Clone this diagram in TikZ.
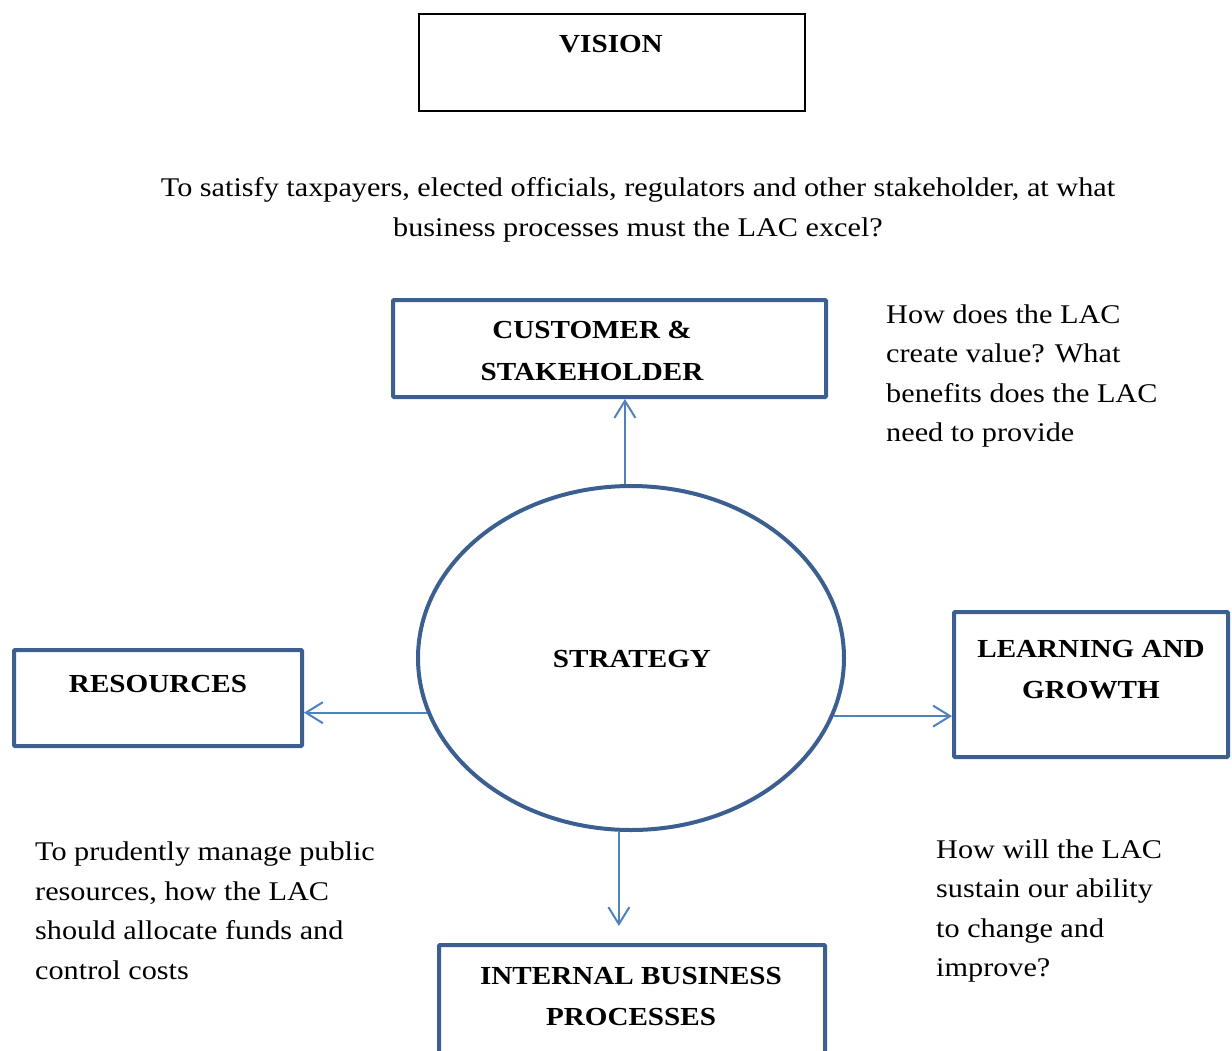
\documentclass[tikz,border=0pt]{standalone}
\usepackage{fontspec}
\setmainfont{Liberation Serif}[FakeStretch=1.12]
\usetikzlibrary{shapes.geometric,arrows.meta,calc}
\definecolor{boxblue}{RGB}{60,95,145}
\definecolor{arrblue}{RGB}{79,129,189}
\tikzset{
  bluebox/.style={draw=boxblue, line width=4pt, rounded corners=1pt, inner sep=0pt},
  boxtext/.style={font=\fontsize{26}{41.5}\selectfont\bfseries, align=center, inner sep=0pt},
  bodytext/.style={font=\fontsize{27}{39.5}\selectfont, inner sep=0pt},
  arr/.style={draw=arrblue, line width=2pt, -{Straight Barb[length=17pt,width=21pt,line width=2pt]}},
}
\begin{document}
\begin{tikzpicture}[x=1pt,y=-1pt]
\useasboundingbox (0,0) rectangle (1232,1050);
\clip (0,0) rectangle (1232,1050);
% vision
\node[draw=black, line width=2pt, minimum width=386, minimum height=97, inner sep=0pt] (vision) at (612,62.5) {};
\node[boxtext] (visiont) at (611,44) {VISION};
% question
\node[bodytext, align=center] (q) at (638,210) {To satisfy taxpayers, elected officials, regulators and other stakeholder, at what\\business processes must the LAC excel?};
% customer
\node[bluebox, minimum width=433, minimum height=97] (cust) at (609.5,348.5) {};
\node[boxtext] (custt) at (592,351) {CUSTOMER \&\\STAKEHOLDER};
\node[bodytext, align=left, anchor=west] (custq) at (886,376) {How does the LAC\\create value? What\\benefits does the LAC\\need to provide};
% strategy
\node[ellipse, draw=boxblue, line width=4pt, minimum width=426, minimum height=344, inner sep=0pt] (strat) at (631,658) {};
\node[boxtext] (stratt) at (632,659) {STRATEGY};
% resources
\node[bluebox, minimum width=288, minimum height=96] (res) at (158,698) {};
\node[boxtext] (rest) at (158,684) {RESOURCES};
\node[bodytext, align=left, anchor=west] (resq) at (35,911) {To prudently manage public\\resources, how the LAC\\should allocate funds and\\control costs};
% learning
\node[bluebox, minimum width=274, minimum height=145] (learn) at (1091,684.5) {};
\node[boxtext] (learnt) at (1091,669.5) {LEARNING AND\\GROWTH};
\node[bodytext, align=left, anchor=west] (learnq) at (936,911) {How will the LAC\\sustain our ability\\to change and\\improve?};
% internal
\node[bluebox, minimum width=386, minimum height=150] (intl) at (632,1020) {};
\node[boxtext] (intlt) at (631,996.5) {INTERNAL BUSINESS\\PROCESSES};
% connectors
\draw[arr] (strat.92.6) -- (strat.92.6 |- cust.south);
\draw[arr] (strat.195.3) -- (strat.195.3 -| res.east);
\draw[arr] (strat.344.4) -- (strat.344.4 -| learn.west);
\draw[arr, shorten >=17pt] (strat.266.7) -- (strat.266.7 |- intl.north);
\end{tikzpicture}
\end{document}
